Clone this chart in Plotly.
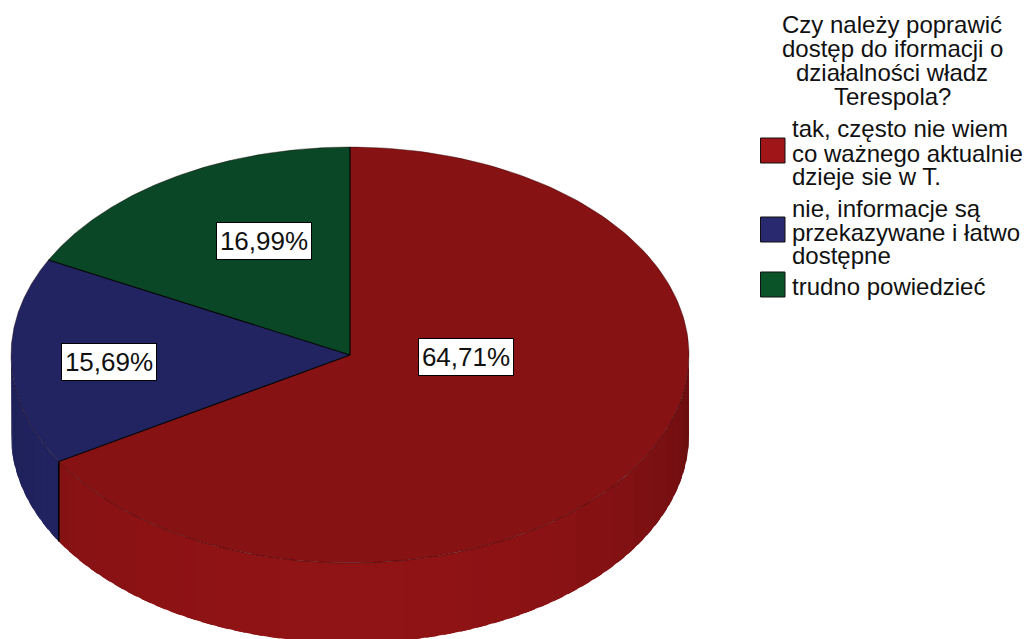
import numpy as np
import plotly.graph_objects as go

categories = ["tak, często nie wiem co ważnego aktualnie dzieje sie w T.",
              "nie, informacje są przekazywane i łatwo dostępne",
              "trudno powiedzieć"]
values = [64.71, 15.69, 16.99]
value_labels = ["64,71%", "15,69%", "16,99%"]
top_colors = ["#871214", "#222462", "#0a4726"]
title_lines = ["Czy należy poprawić", "dostęp do iformacji o", "działalności władz", "Terespola?"]
legend_lines = [["tak, często nie wiem", "co ważnego aktualnie", "dzieje sie w T."],
                ["nie, informacje są", "przekazywane i łatwo", "dostępne"],
                ["trudno powiedzieć"]]

CX, CY, RX, RY, DEPTH = 350.0, 355.0, 339.0, 208.0, 80.0
FONT = "Liberation Sans, Arial, sans-serif"

def ex(t):
    return CX + RX * np.sin(np.radians(t))

def ey(t):
    return CY - RY * np.cos(np.radians(t))

def shade(hex_color, f):
    r, g, b = [int(hex_color[i:i + 2], 16) for i in (1, 3, 5)]
    return "rgb(%d,%d,%d)" % (min(255, r * f), min(255, g * f), min(255, b * f))

shares = np.array(values) / sum(values) * 360.0
edges = np.concatenate([[0.0], np.cumsum(shares)])

fig = go.Figure()

# side wall: thin shaded strips along the front half, each overlapping the next
step = 3.0
for a in np.arange(90.0, 270.0, step):
    b = a + step
    parts = sorted({a, b} | {e for e in edges if a < e < b})
    for p, q in zip(parts[:-1], parts[1:]):
        m = (p + q) / 2
        i = int(np.searchsorted(edges, m) - 1)
        off = m - 180.0
        f = 1.07 - 0.30 * (off / 90.0) ** 2 if off < 0 else 1.07 - 0.17 * (off / 90.0) ** 2
        col = shade(top_colors[i], f)
        ts = np.linspace(p, min(q + 2.0, 270.0), 5)
        xs = np.concatenate([ex(ts), ex(ts[::-1])])
        ys = np.concatenate([ey(ts), ey(ts[::-1]) + DEPTH])
        fig.add_trace(go.Scatter(x=xs, y=ys, mode="lines", fill="toself", fillcolor=col,
                                 line=dict(color="rgba(0,0,0,0)", width=0),
                                 hoverinfo="skip", showlegend=False))

# vertical edge between front-facing slices
for e in edges[1:-1]:
    if 90 < e < 270:
        fig.add_trace(go.Scatter(x=[ex(e), ex(e)], y=[ey(e), ey(e) + DEPTH], mode="lines",
                                 line=dict(color="black", width=1.6), hoverinfo="skip", showlegend=False))

# top faces
for i, col in enumerate(top_colors):
    ts = np.linspace(edges[i], edges[i + 1], 200)
    xs = np.concatenate([[CX], ex(ts), [CX]])
    ys = np.concatenate([[CY], ey(ts), [CY]])
    fig.add_trace(go.Scatter(x=xs, y=ys, mode="lines", fill="toself", fillcolor=col,
                             line=dict(color="rgba(0,0,0,0)", width=0), hoverinfo="skip", showlegend=False))
    fig.add_trace(go.Scatter(x=ex(ts), y=ey(ts), mode="lines",
                             line=dict(color="rgba(30,0,0,0.55)", width=0.7), hoverinfo="skip", showlegend=False))

# radial edges
for e in edges[:-1]:
    fig.add_trace(go.Scatter(x=[CX, ex(e)], y=[CY, ey(e)], mode="lines",
                             line=dict(color="black", width=1.1), hoverinfo="skip", showlegend=False))

annotations = []
label_pos = [(466, 357), (109, 361.5), (263.5, 241)]
for (x, y), txt in zip(label_pos, value_labels):
    annotations.append(dict(x=x, y=y, text=txt, showarrow=False, xanchor="center", yanchor="middle",
                            width=90, height=32, align="center", valign="middle",
                            bgcolor="white", bordercolor="black", borderwidth=1, borderpad=2,
                            font=dict(family=FONT, size=26, color="#111111")))

for y, line in zip([24.5, 48.5, 72, 96], title_lines):
    annotations.append(dict(x=892, y=y, text=line, showarrow=False, xanchor="center", yanchor="middle",
                            font=dict(family=FONT, size=24, color="#111111")))

line_y = [[128, 153, 176], [208, 232, 255], [286]]
for lines, ys in zip(legend_lines, line_y):
    for line, y in zip(lines, ys):
        annotations.append(dict(x=790, y=y, text=line, showarrow=False, xanchor="left", yanchor="middle",
                                font=dict(family=FONT, size=24, color="#111111")))

shapes = []
swatch_y = [(138, 163), (217, 242), (272, 297)]
swatch_colors = ["#a01518", "#28296e", "#0a5228"]
for (y0, y1), col in zip(swatch_y, swatch_colors):
    shapes.append(dict(type="rect", x0=760.5, x1=785, y0=y0, y1=y1, fillcolor=col,
                       line=dict(color="#111111", width=1)))

fig.update_layout(width=1024, height=639, margin=dict(l=0, r=0, t=0, b=0),
                  paper_bgcolor="white", plot_bgcolor="white", showlegend=False,
                  xaxis=dict(range=[0, 1024], visible=False, fixedrange=True),
                  yaxis=dict(range=[639, 0], visible=False, fixedrange=True),
                  annotations=annotations, shapes=shapes)
fig.write_html("out.html", config=dict(displayModeBar=False),
               post_script="document.body.style.margin='0';document.body.style.overflow='hidden';")
